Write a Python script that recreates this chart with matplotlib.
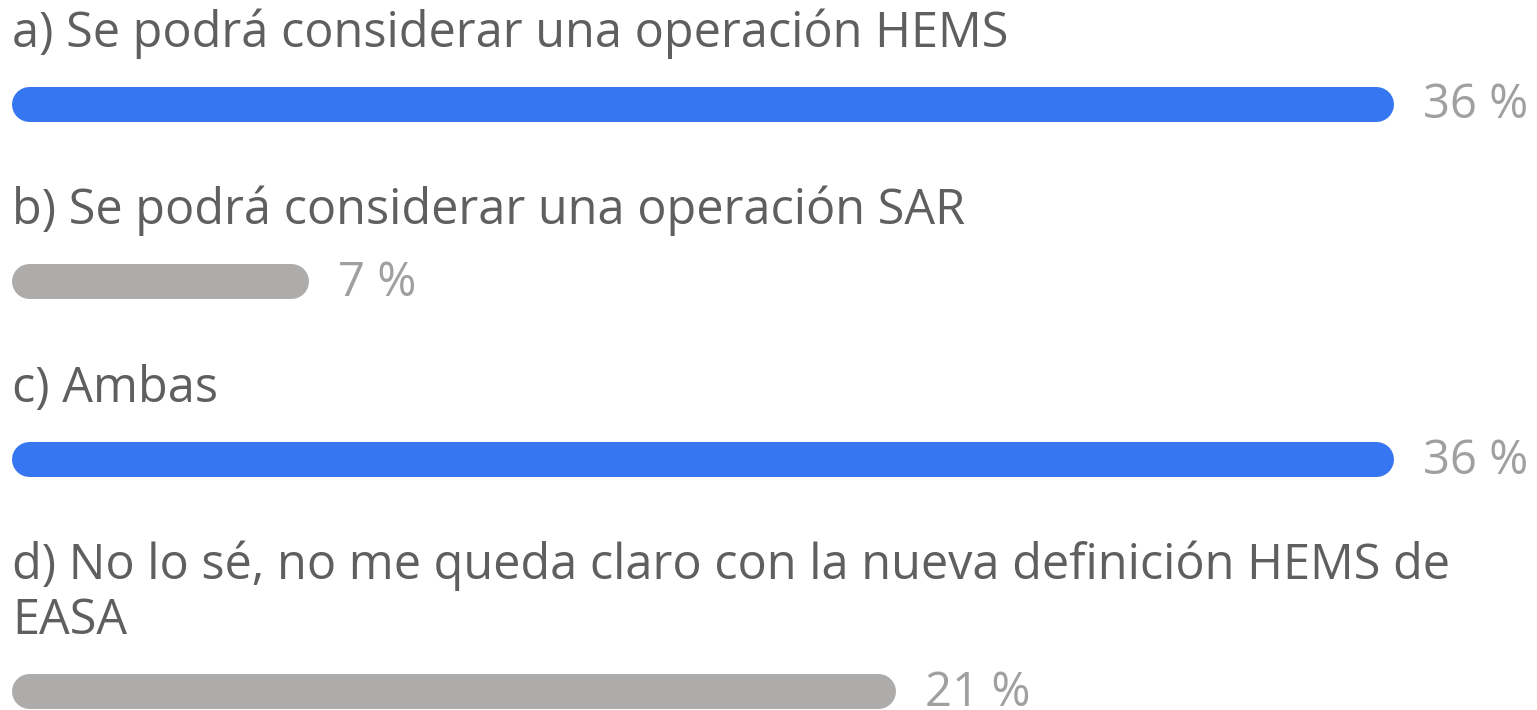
import matplotlib.pyplot as plt

# Poll options and results
options = [
    'a) Se podrá considerar una operación HEMS',
    'b) Se podrá considerar una operación SAR',
    'c) Ambas',
    'd) No lo sé, no me queda claro con la nueva definición HEMS de\nEASA',
]
pct_labels = [36, 7, 36, 21]
# bar lengths as drawn in the picture (same % scale)
bar_len = [36, 7, 36, 22.7]

BLUE = '#3676f0'
GREY = '#adacab'
TEXT = '#5f5f5f'
PCT_TEXT = '#a0a0a0'

plt.rcParams['font.family'] = ['Open Sans', 'DejaVu Sans']

W, H = 1537, 710
fig = plt.figure(figsize=(W / 100, H / 100), dpi=100)
ax = fig.add_axes([0, 0, 1, 1])

# x in % units: 0 -> 29.5 px, 36 -> 1375.5 px ; y in pixels from top
px_per_unit = (1375.5 - 29.5) / 36
ax.set_xlim(-29.5 / px_per_unit, (W - 29.5) / px_per_unit)
ax.set_ylim(H, 0)
ax.axis('off')

line_h = 54.5
y = 47  # baseline of first label line
top_val = max(pct_labels)
for opt, p, L in zip(options, pct_labels, bar_len):
    nlines = opt.count('\n') + 1
    last_base = y + (nlines - 1) * line_h
    # multi-line text with va='baseline' sits on its last line's baseline
    ax.text(12 / W, last_base, opt, transform=ax.get_yaxis_transform(),
            fontsize=35, color=TEXT, va='baseline', ha='left',
            linespacing=1.135)
    yc = last_base + 56.5
    color = BLUE if p == top_val else GREY
    ax.plot([0, L], [yc, yc], color=color, lw=25.2, solid_capstyle='round')
    ax.annotate(f'{p} %', xy=(L, yc + 15), xytext=(34, 0),
                textcoords='offset points', fontsize=34, color=PCT_TEXT,
                va='baseline', ha='left')
    y = yc + 177.5 - 56.5

fig.savefig('out.png', dpi=100)
